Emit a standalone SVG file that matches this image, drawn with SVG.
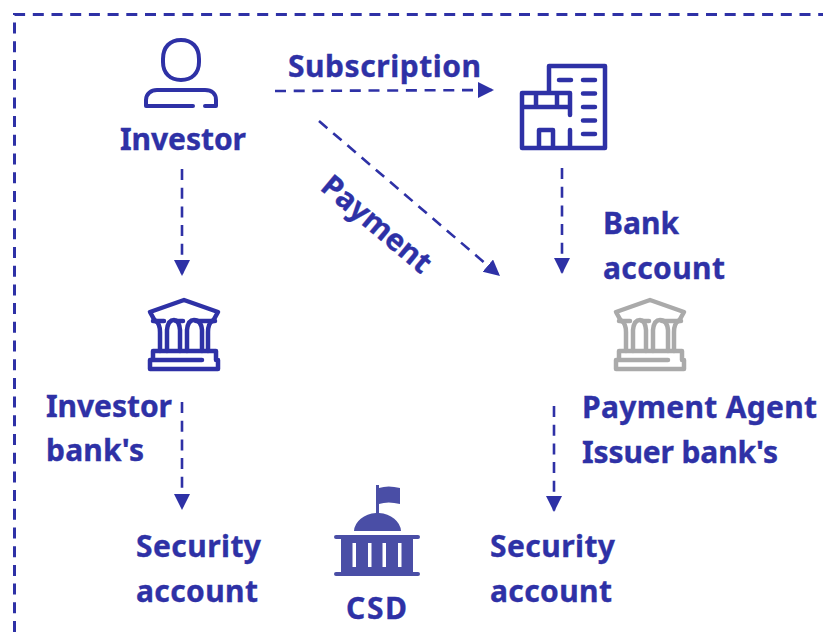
<svg xmlns="http://www.w3.org/2000/svg" width="823" height="632" viewBox="0 0 823 632">
<style>
.t{font-family:"Noto Sans","Liberation Sans",sans-serif;font-weight:700;font-size:30px;fill:#2e31a6;stroke:#2e31a6;stroke-width:.35}
.c{fill:none;stroke:#2e31a6;stroke-width:2.6;stroke-dasharray:11 7.7}
.b{fill:none;stroke:#2e31a6;stroke-width:3;stroke-dasharray:11 7.7}
.i{fill:none;stroke:#2e31a6;stroke-width:4;stroke-linecap:round;stroke-linejoin:round}
.w{stroke-width:4.5}
.g{stroke:#aaaaaa}
</style>
<defs>
<marker id="a" markerUnits="userSpaceOnUse" markerWidth="18" markerHeight="18" refX="16" refY="8" orient="auto"><path d="M0 0L16 8L0 16Z" fill="#2e31a6"/></marker>
<g id="bank">
<path d="M-29 -3L-34 -12L0 -24L34 -12L29 -3"/>
<path d="M-31 -3H-20M-8 -3H-1M12 -3H31"/>
<path d="M-28 -3Q-24 0 -24 8L-24 27M24 27L24 8Q24 0 28 -3"/>
<path d="M-17 27L-17 6Q-16 -4 -10 -4Q-5 -4 -4 6L-4 27M3 27L3 6Q4 -4 10 -4Q17 -4 18 6L18 27"/>
<path d="M-31 36V27H32V36M18 36H-34V45H34V36H32"/>
</g>
</defs>
<g id="frame"><path class="b" d="M14.5 632L14.5 14.5L823 14.5"/></g>
<g id="connectors">
<path class="c" d="M275 91L494 90" marker-end="url(#a)"/>
<path class="c" d="M319 121L500 276" marker-end="url(#a)"/>
<path class="c" d="M182 169L182 276" marker-end="url(#a)"/>
<path class="c" d="M562 168L562 274" marker-end="url(#a)"/>
<path class="c" d="M182 402L182 510" marker-end="url(#a)"/>
<path class="c" d="M554 406L554 512" marker-end="url(#a)"/>
</g>
<g id="investor">
<path class="i" d="M163 59C163 47 170 40 181 40C192 40 199 47 199 59V62C199 73 192 80 181 80C170 80 163 73 163 62Z"/>
<path class="i" d="M193 106H146V100C146 94 151 90 157 90H205C212 90 216 94 216 100V106H205"/>
<text class="t" x="120" y="150" textLength="126">Investor</text>
</g>
<g id="issuer">
<path class="i w" d="M549 93V66H605V148H522V93H570V115M570 130V148M522 107H570M536 93V107M557 93V107M539 148V130H553V148"/>
<path class="i w" d="M559 80H571M583 80H595M583 93.500H595M583 107H595M583 120.500H595M583 134H595"/>
</g>
<g id="investor-bank"><use href="#bank" x="184" y="324" class="i w"/>
<text class="t" x="46" y="417" textLength="126">Investor</text><text class="t" x="46" y="461" textLength="98">bank's</text></g>
<g id="payment-agent"><use href="#bank" x="650" y="324" class="i w g"/>
<text class="t" x="582" y="418" textLength="235">Payment Agent</text><text class="t" x="582" y="463" textLength="196">Issuer bank's</text></g>
<g id="csd">
<path d="M354 531A24 19 0 0 1 376 513V485H379V488Q388 485 400 488V504Q388 501 379 504V513A24 19 0 0 1 401 531Z" fill="#4a4ea6"/>
<path fill-rule="evenodd" d="M336 535H418Q420 535 420 537Q420 539 418 539H413V572H418Q420 572 420 574Q420 576 418 576H336Q334 576 334 574Q334 572 336 572H341V539H336Q334 539 334 537Q334 535 336 535ZM352.500 543V567H356V543ZM368 543V567H371.500V543ZM382.500 543V567H386V543ZM398 543V567H401.500V543Z" fill="#4a4ea6"/>
<text class="t" x="346" y="619" textLength="61">CSD</text>
</g>
<g id="labels">
<text class="t" x="288" y="77" textLength="193">Subscription</text>
<text class="t" transform="translate(319 189) rotate(40)">Payment</text>
<text class="t" x="603" y="234" textLength="76">Bank</text><text class="t" x="603" y="279" textLength="122">account</text>
<text class="t" x="136" y="557" textLength="125">Security</text><text class="t" x="136" y="602" textLength="122">account</text>
<text class="t" x="490" y="557" textLength="125">Security</text><text class="t" x="490" y="602" textLength="122">account</text>
</g>
</svg>
